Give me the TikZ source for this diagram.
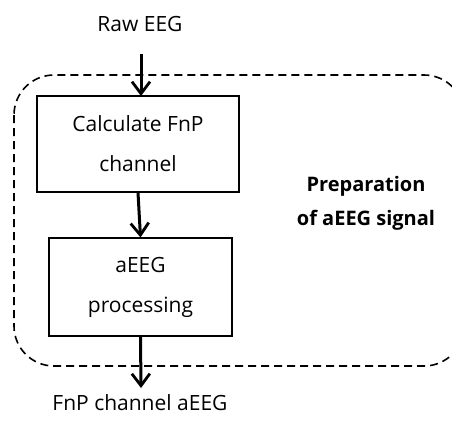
\documentclass[tikz,border=0pt]{standalone}
\usepackage{fontspec}
\setmainfont{Open Sans}
\usetikzlibrary{arrows.meta}
\begin{document}
\begin{tikzpicture}[x=1pt,y=-1pt,
  procbox/.style={draw=black,line width=1.2pt,align=center,inner sep=0pt,
    font=\fontsize{21}{40}\selectfont},
  lbl/.style={align=center,inner sep=0pt,font=\fontsize{21}{34}\selectfont},
  flow/.style={line width=3pt,-{Straight Barb[length=12pt,width=18pt,line width=2.8pt]}},
  group/.style={draw=black,line width=1.6pt,dash pattern=on 8pt off 5pt,rounded corners=40pt}]
\useasboundingbox (0,0) rectangle (452,424);
\begin{scope}
\clip (0,0) rectangle (452,424);
\draw[group] (14,75) rectangle (464,366);
\end{scope}
\node[lbl] (raw) at (140,24) {Raw EEG};
\coordinate (rawend) at (141,54);
\node[procbox,minimum width=202pt,minimum height=96pt] (calc) at (138,144) {Calculate FnP\\channel};
\node[procbox,minimum width=183pt,minimum height=98pt] (proc) at (140.5,287) {aEEG\\processing};
\coordinate (outend) at (141,388);
\node[lbl] (out) at (140,403) {FnP channel aEEG};
\node[lbl,font=\fontsize{20}{34}\selectfont\bfseries] (prep) at (366,203) {Preparation\\of aEEG signal};
\draw[flow] (rawend) -- (141,96);
\draw[flow] (calc.south) -- (proc.north);
\draw[flow] (proc.south) -- (outend);
\end{tikzpicture}
\end{document}
